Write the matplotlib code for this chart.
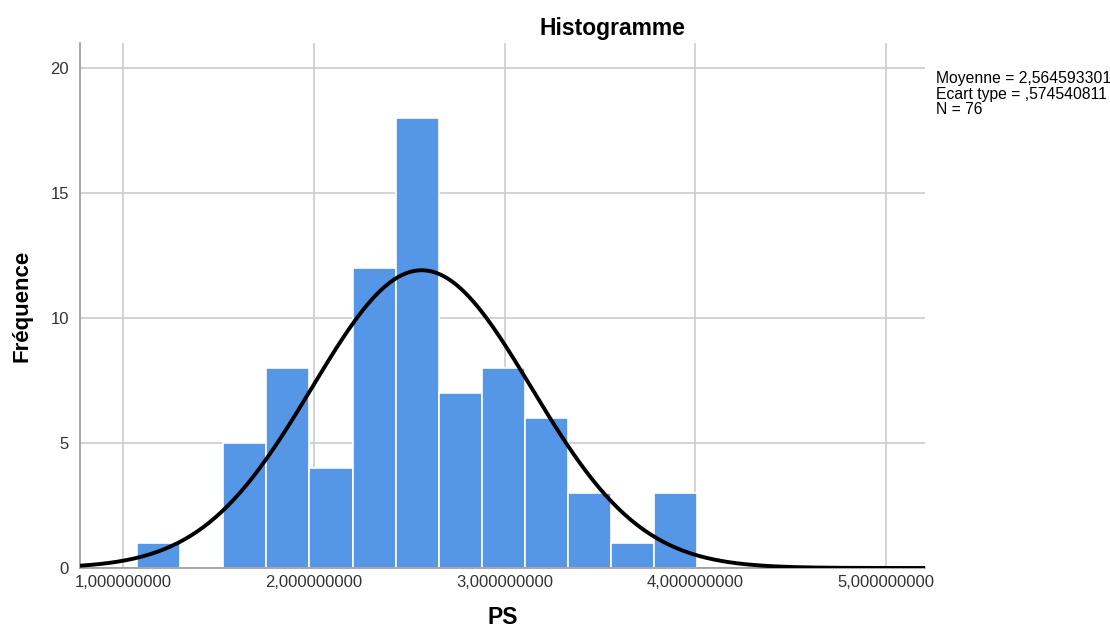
import numpy as np
import matplotlib
matplotlib.use("Agg")
import matplotlib.pyplot as plt

plt.rcParams['font.family'] = ['Liberation Sans', 'DejaVu Sans']

# histogram data
counts = [1, 0, 5, 8, 4, 12, 18, 7, 8, 6, 3, 1, 3]
bin_start = 1.0735
bin_width = 0.2257
mean = 2.564593301
sd = 0.574540811
n = 76
xticks = [1, 2, 3, 4, 5]
xtick_labels = ["1,000000000", "2,000000000", "3,000000000", "4,000000000", "5,000000000"]
yticks = [0, 5, 10, 15, 20]

edges = bin_start + bin_width * np.arange(len(counts))

fig = plt.figure(figsize=(11.1, 6.3), dpi=100)
ax = fig.add_axes([80/1110, 1-568/630, 845/1110, 525/630])

ax.bar(edges, counts, width=bin_width, align='edge', color='#5596E6',
       edgecolor='white', linewidth=1.2, zorder=2)

xs = np.linspace(0.773, 5.204, 400)
ys = n * bin_width / (sd * np.sqrt(2*np.pi)) * np.exp(-0.5*((xs-mean)/sd)**2)
ax.plot(xs, ys, color='black', lw=2.8, zorder=3, solid_capstyle='butt')

ax.set_xlim(0.773, 5.204)
ax.set_ylim(0, 21)
ax.set_xticks(xticks)
ax.set_xticklabels(xtick_labels)
ax.set_yticks(yticks)
ax.grid(True, color='#cccccc', lw=1.2, zorder=0)
ax.set_axisbelow(True)
for s in ['top', 'right']:
    ax.spines[s].set_visible(False)
for s in ['left', 'bottom']:
    ax.spines[s].set_color('#999999')
    ax.spines[s].set_linewidth(1.2)
ax.tick_params(length=0, labelsize=12, colors='#333333', pad=5)
ax.tick_params(axis='y', pad=8)

fig.text(612/1110, 1-28/630, "Histogramme", ha='center', va='center',
         fontsize=16.5, fontweight='bold')
fig.text(22/1110, 1-306/630, "Fréquence", rotation=90, ha='center', va='center',
         fontsize=16, fontweight='bold')
fig.text(503/1110, 1-618/630, "PS", ha='center', va='center',
         fontsize=16.5, fontweight='bold')
fig.text(936/1110, 1-71/630,
         "Moyenne = 2,564593301\nEcart type = ,574540811\nN = 76",
         ha='left', va='top', fontsize=11.3, linespacing=1.05)

fig.savefig("out.png", dpi=100)
